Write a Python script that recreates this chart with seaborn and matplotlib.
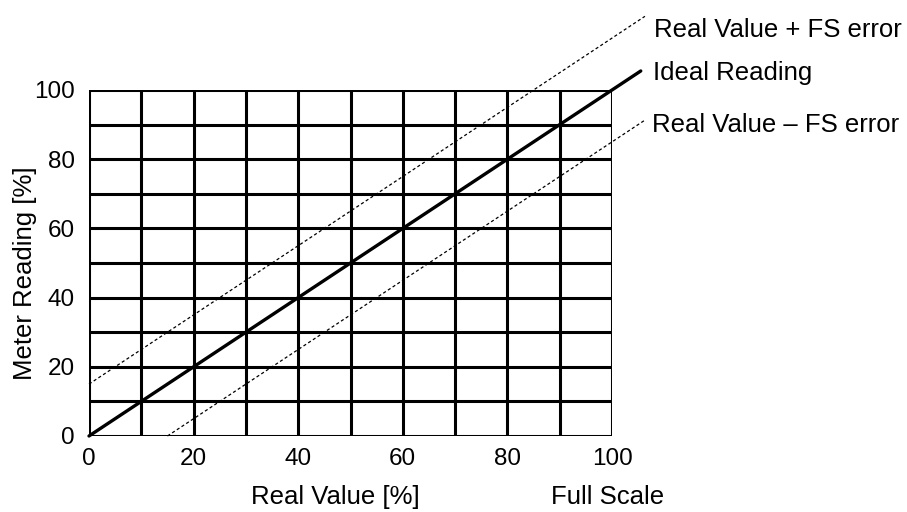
import matplotlib
matplotlib.use("Agg")
import matplotlib.pyplot as plt
import seaborn as sns
import numpy as np

sns.set_theme(style="white")
plt.rcParams['font.family'] = ['Liberation Sans', 'DejaVu Sans']

# Data
ideal_x = [0, 105.5]
ideal_y = [0, 105.5]
upper_x = [0, 106.3]
upper_y = [15, 121.3]
lower_x = [15, 106.3]
lower_y = [0, 91.3]
tick_values = [0, 20, 40, 60, 80, 100]
grid_values = [0, 10, 20, 30, 40, 50, 60, 70, 80, 90, 100]
label_upper = "Real Value + FS error"
label_ideal = "Ideal Reading"
label_lower = "Real Value \u2013 FS error"

W, H = 907, 512
fig = plt.figure(figsize=(W/100, H/100), dpi=100)
ax = fig.add_axes([89/W, 1-436/H, (612-89)/W, (436-90)/H])

ax.set_xlim(0, 100)
ax.set_ylim(0, 100)

for v in grid_values:
    ax.axvline(v, color='black', lw=2.2, zorder=1)
    ax.axhline(v, color='black', lw=2.2, zorder=1)

sns.lineplot(x=ideal_x, y=ideal_y, ax=ax, color='black', lw=2.4, clip_on=False, zorder=3)
sns.lineplot(x=upper_x, y=upper_y, ax=ax, color='black', lw=0.9, ls=(0, (2.5, 2)), clip_on=False, zorder=3)
sns.lineplot(x=lower_x, y=lower_y, ax=ax, color='black', lw=0.9, ls=(0, (2.5, 2)), clip_on=False, zorder=3)

for s in ax.spines.values():
    s.set_visible(False)

ax.set_xticks(tick_values)
ax.set_yticks(tick_values)
ax.set_xticklabels([str(t) for t in tick_values], fontsize=17.5)
ax.set_yticklabels([str(t) for t in tick_values], fontsize=17.5)
ax.tick_params(axis='x', length=0, pad=8.5, colors='black')
ax.tick_params(axis='y', length=0, pad=10, colors='black')
ax.set_xlabel("")
ax.set_ylabel("")

fs = 18.5
fig.text(335/W, 1-504/H, "Real Value [%]", fontsize=fs, ha='center', va='baseline', color='black')
fig.text(608/W, 1-504/H, "Full Scale", fontsize=fs, ha='center', va='baseline', color='black')
fig.text(32/W, 1-273/H, "Meter Reading [%]", fontsize=fs, ha='center', va='baseline',
         rotation=90, rotation_mode='anchor', color='black')
fig.text(654/W, 1-37/H, label_upper, fontsize=fs, ha='left', va='baseline', color='black')
fig.text(653/W, 1-80/H, label_ideal, fontsize=fs, ha='left', va='baseline', color='black')
fig.text(652/W, 1-132/H, label_lower, fontsize=fs, ha='left', va='baseline', color='black')

fig.savefig("out.png", dpi=100)
